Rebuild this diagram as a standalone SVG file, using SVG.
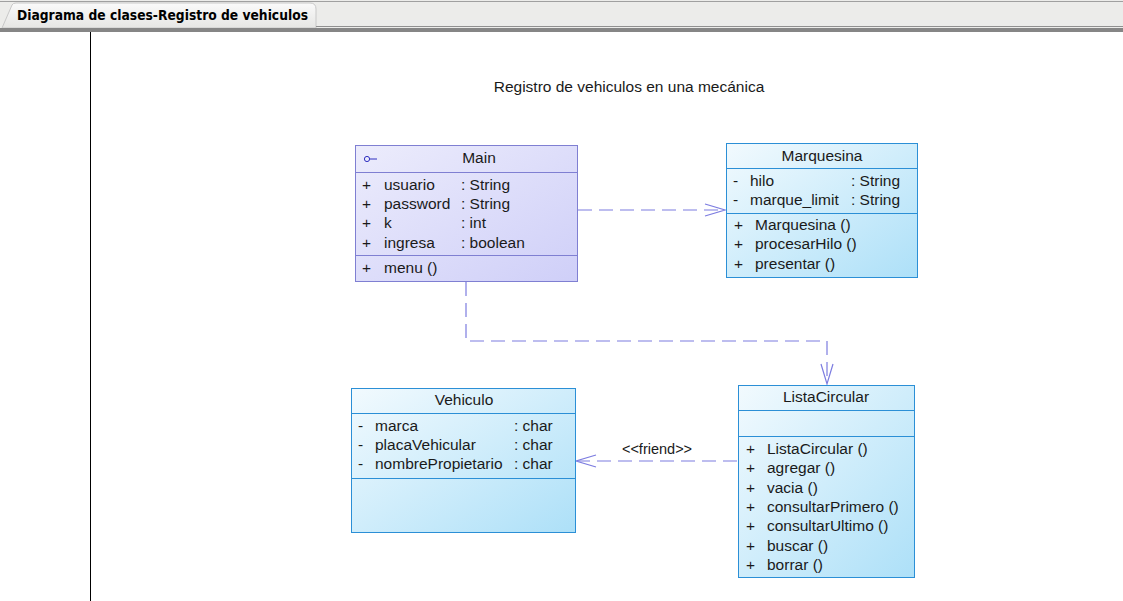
<svg xmlns="http://www.w3.org/2000/svg" width="1123" height="601" viewBox="0 0 1123 601">
<defs>
<linearGradient id="gMain" x1="0" y1="0" x2="1" y2="1">
<stop offset="0" stop-color="#ececfc"/><stop offset="1" stop-color="#cfcff8"/>
</linearGradient>
<linearGradient id="gBlue" x1="0" y1="0" x2="1" y2="1">
<stop offset="0" stop-color="#f2fafe"/><stop offset="1" stop-color="#ade0f8"/>
</linearGradient>
<linearGradient id="gTab" x1="0" y1="0" x2="0" y2="1">
<stop offset="0" stop-color="#fafafa"/><stop offset="1" stop-color="#e6e6e4"/>
</linearGradient>
<style>
text{font-family:"Liberation Sans",Arial,sans-serif;font-size:15.5px;fill:#1a1a1a}
.t{text-anchor:middle}
.main{fill:url(#gMain);stroke:#7f7fd2;stroke-width:1}
.blue{fill:url(#gBlue);stroke:#2b8fd6;stroke-width:1}
.sepm{stroke:#7f7fd2;stroke-width:1}
.sepb{stroke:#2b8fd6;stroke-width:1}
.con{fill:none;stroke:#7c7ce0;stroke-width:1.2;stroke-dasharray:14 7}
.arr{fill:none;stroke:#7c7ce0;stroke-width:1.2}
</style>
</defs>
<rect width="1123" height="601" fill="#ffffff"/>
<g id="tabbar">
<rect x="0" y="0" width="1123" height="29" fill="#ececea"/>
<line x1="0" y1="1.5" x2="1123" y2="1.5" stroke="#a0a0a0"/>
<path d="M2,28 L12,5 Q13,3 16,3 L310,3 Q316,3 316,9 L316,28 Z" fill="url(#gTab)" stroke="#c8c8c8"/>
<line x1="316" y1="26.5" x2="1123" y2="26.5" stroke="#909090"/>
<rect x="0" y="28" width="1123" height="4" fill="#868686"/>
<text x="17" y="20" style="font-family:'DejaVu Sans',sans-serif;font-weight:bold;font-size:13.5px;fill:#000" textLength="291" lengthAdjust="spacingAndGlyphs">Diagrama de clases-Registro de vehiculos</text>
</g>
<line x1="90.5" y1="32" x2="90.5" y2="601" stroke="#000" stroke-width="1"/>
<text x="629" y="92" class="t">Registro de vehiculos en una mecánica</text>

<g id="connectors">
<path class="con" d="M578,210 H724"/>
<path class="arr" d="M705,204 L725,210 L705,216"/>
<path class="con" d="M466,282 V341 H827 V383"/>
<path class="arr" d="M821,364 L827,384 L833,364"/>
<path class="con" d="M737,461 H577"/>
<path class="arr" d="M596,455 L576,461 L596,467"/>
<text x="657" y="454" class="t" style="font-size:14.5px">&lt;&lt;friend&gt;&gt;</text>
</g>

<g id="Main">
<rect x="355.5" y="145.5" width="222" height="136" class="main"/>
<line x1="355.5" y1="172.5" x2="577.5" y2="172.5" class="sepm"/>
<line x1="355.5" y1="255.5" x2="577.5" y2="255.5" class="sepm"/>
<circle cx="367" cy="159" r="2.6" fill="none" stroke="#3030c0" stroke-width="1"/>
<line x1="369.6" y1="159" x2="377" y2="159" stroke="#3030c0" stroke-width="1"/>
<text x="479" y="163" class="t">Main</text>
<text x="362" y="190">+</text><text x="384" y="190">usuario</text><text x="461" y="190">: String</text>
<text x="362" y="209">+</text><text x="384" y="209">password</text><text x="461" y="209">: String</text>
<text x="362" y="228">+</text><text x="384" y="228">k</text><text x="461" y="228">: int</text>
<text x="362" y="248">+</text><text x="384" y="248">ingresa</text><text x="461" y="248">: boolean</text>
<text x="362" y="273">+</text><text x="384" y="273">menu ()</text>
</g>

<g id="Marquesina">
<rect x="726.5" y="143.5" width="191" height="134" class="blue"/>
<line x1="726.5" y1="168.5" x2="917.5" y2="168.5" class="sepb"/>
<line x1="726.5" y1="213.5" x2="917.5" y2="213.5" class="sepb"/>
<text x="822" y="161" class="t">Marquesina</text>
<text x="733" y="186">-</text><text x="750" y="186">hilo</text><text x="851" y="186">: String</text>
<text x="733" y="205">-</text><text x="750" y="205">marque_limit</text><text x="851" y="205">: String</text>
<text x="734" y="230">+</text><text x="755" y="230">Marquesina ()</text>
<text x="734" y="249">+</text><text x="755" y="249">procesarHilo ()</text>
<text x="734" y="269">+</text><text x="755" y="269">presentar ()</text>
</g>

<g id="Vehiculo">
<rect x="351.5" y="388.5" width="224" height="144" class="blue"/>
<line x1="351.5" y1="413.5" x2="575.5" y2="413.5" class="sepb"/>
<line x1="351.5" y1="478.5" x2="575.5" y2="478.5" class="sepb"/>
<text x="464" y="405" class="t">Vehiculo</text>
<text x="358" y="431">-</text><text x="375" y="431">marca</text><text x="514" y="431">: char</text>
<text x="358" y="450">-</text><text x="375" y="450">placaVehicular</text><text x="514" y="450">: char</text>
<text x="358" y="469">-</text><text x="375" y="469">nombrePropietario</text><text x="514" y="469">: char</text>
</g>

<g id="ListaCircular">
<rect x="738.5" y="385.5" width="176" height="192" class="blue"/>
<line x1="738.5" y1="410.5" x2="914.5" y2="410.5" class="sepb"/>
<line x1="738.5" y1="436.5" x2="914.5" y2="436.5" class="sepb"/>
<text x="826" y="402" class="t">ListaCircular</text>
<text x="746" y="454">+</text><text x="767" y="454">ListaCircular ()</text>
<text x="746" y="473">+</text><text x="767" y="473">agregar ()</text>
<text x="746" y="493">+</text><text x="767" y="493">vacia ()</text>
<text x="746" y="512">+</text><text x="767" y="512">consultarPrimero ()</text>
<text x="746" y="531">+</text><text x="767" y="531">consultarUltimo ()</text>
<text x="746" y="551">+</text><text x="767" y="551">buscar ()</text>
<text x="746" y="570">+</text><text x="767" y="570">borrar ()</text>
</g>
</svg>
